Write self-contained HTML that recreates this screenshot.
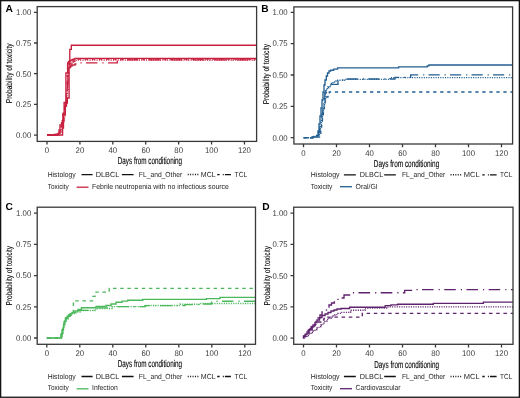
<!DOCTYPE html>
<html><head><meta charset="utf-8"><title>Figure</title>
<style>html,body{margin:0;padding:0;background:#fff;}svg{display:block;will-change:transform;}text{text-rendering:geometricPrecision;}</style>
</head><body>
<svg width="520" height="398" viewBox="0 0 520 398" font-family='"Liberation Sans", sans-serif'>
<rect width="520" height="398" fill="#fff"/>
<text x="5.40" y="12.30" font-size="10.2" fill="#000" font-weight="bold">A</text>
<clipPath id="clipA"><rect x="37.2" y="6.6" width="219.40000000000003" height="134.8"/></clipPath>
<g clip-path="url(#clipA)" fill="none" stroke="#c8203f" stroke-width="1.35">
<path d="M47 135H62.6V128H63.5V115H65.3V103H67.3V98H69.1V62H69.8V49.3H71.3V45.2H256.6"/>
<path d="M47 135H54.5V134.5H58V133.5H59V130H60V125H61.5V122.6H62.9V113.6H64.1V102.5H65.9V73H67.6V63H68.5V61.5H70V60.5H72V59.5H74V58.8H75V58.3H256.6"/>
<path d="M47 135H56V134.5H59.5V132H60.8V127H62V121H63.4V112H64.6V104H66.4V92H67.2V76H68V68H69V64H70.5V62.3H72V61H74V59.8H76V59.1H256.6" stroke-dasharray="3.4 3.7"/>
<path d="M47 135H56.5V134.7H60V133H61V129H62.3V124H63.5V118H64.8V108H66V100H67V90H67.8V76H68.3V69H69.3V66H70.5V64.5H72V63H73.5V62H75V61H76.2V60H256.6" stroke-dasharray="1.1 1.25"/>
<path d="M47 135H57V134.5H59.5V133H60.7V130H61.8V126H62.8V121H64V114H65V106H66.5V96H67.4V84H68V74H68.7V70H69.5V67.5H70.5V66H72V65H75V64H79V62.9H117.3V59.9H256.6" stroke-dasharray="11.4 5 1.2 4.4" stroke-dashoffset="20.90"/>
</g>
<rect x="37.2" y="6.6" width="219.40" height="134.80" fill="none" stroke="#3a3839" stroke-width="1.3"/>
<text x="31.30" y="137.90" font-size="8.2" fill="#404040" text-anchor="end" textLength="15.18" lengthAdjust="spacingAndGlyphs">0.00</text>
<text x="31.30" y="107.20" font-size="8.2" fill="#404040" text-anchor="end" textLength="15.18" lengthAdjust="spacingAndGlyphs">0.25</text>
<text x="31.30" y="76.50" font-size="8.2" fill="#404040" text-anchor="end" textLength="15.18" lengthAdjust="spacingAndGlyphs">0.50</text>
<text x="31.30" y="45.80" font-size="8.2" fill="#404040" text-anchor="end" textLength="15.18" lengthAdjust="spacingAndGlyphs">0.75</text>
<text x="31.30" y="15.10" font-size="8.2" fill="#404040" text-anchor="end" textLength="15.18" lengthAdjust="spacingAndGlyphs">1.00</text>
<text x="47.00" y="153.20" font-size="8.2" fill="#404040" text-anchor="middle" textLength="4.34" lengthAdjust="spacingAndGlyphs">0</text>
<text x="79.91" y="153.20" font-size="8.2" fill="#404040" text-anchor="middle" textLength="8.67" lengthAdjust="spacingAndGlyphs">20</text>
<text x="112.82" y="153.20" font-size="8.2" fill="#404040" text-anchor="middle" textLength="8.67" lengthAdjust="spacingAndGlyphs">40</text>
<text x="145.73" y="153.20" font-size="8.2" fill="#404040" text-anchor="middle" textLength="8.67" lengthAdjust="spacingAndGlyphs">60</text>
<text x="178.64" y="153.20" font-size="8.2" fill="#404040" text-anchor="middle" textLength="8.67" lengthAdjust="spacingAndGlyphs">80</text>
<text x="211.55" y="153.20" font-size="8.2" fill="#404040" text-anchor="middle" textLength="13.01" lengthAdjust="spacingAndGlyphs">100</text>
<text x="244.46" y="153.20" font-size="8.2" fill="#404040" text-anchor="middle" textLength="13.01" lengthAdjust="spacingAndGlyphs">120</text>
<path d="M34.00 135.10H37.20M34.00 104.40H37.20M34.00 73.70H37.20M34.00 43.00H37.20M34.00 12.30H37.20M47.00 141.40V144.60M79.91 141.40V144.60M112.82 141.40V144.60M145.73 141.40V144.60M178.64 141.40V144.60M211.55 141.40V144.60M244.46 141.40V144.60" stroke="#3a3839" stroke-width="1.3" fill="none"/>
<text transform="translate(117.70,163.60) scale(0.06332,0.1)" x="0" y="0" font-size="100" stroke="#000" stroke-width="1.2">Days from conditioning</text>
<text transform="translate(12.00,103.20) rotate(-90) scale(0.07629,0.1)" x="0" y="0" font-size="86" stroke="#000" stroke-width="1.0">Probability of toxicity</text>
<text x="47.70" y="177.20" font-size="7.4" fill="#262626" textLength="28.00" lengthAdjust="spacingAndGlyphs">Histology</text>
<text x="95.70" y="177.20" font-size="7.4" fill="#262626" textLength="23.60" lengthAdjust="spacingAndGlyphs">DLBCL</text>
<text x="138.80" y="177.20" font-size="7.4" fill="#262626" textLength="43.40" lengthAdjust="spacingAndGlyphs">FL_and_Other</text>
<text x="200.80" y="177.20" font-size="7.4" fill="#262626" textLength="14.90" lengthAdjust="spacingAndGlyphs">MCL</text>
<text x="234.60" y="177.20" font-size="7.4" fill="#262626" textLength="12.60" lengthAdjust="spacingAndGlyphs">TCL</text>
<text x="47.70" y="189.00" font-size="7.4" fill="#262626" textLength="21.10" lengthAdjust="spacingAndGlyphs">Toxicity</text>
<text x="92.00" y="189.00" font-size="7.4" fill="#262626" textLength="136.90" lengthAdjust="spacingAndGlyphs">Febrile neutropenia with no infectious source</text>
<path d="M81.5 174.6H92.6M121.9 174.6H133.6" stroke="#111" stroke-width="1.3"/>
<path d="M187.70 174.6h1.0M190.12 174.6h1.0M192.54 174.6h1.0M194.96 174.6h1.0M197.38 174.6h1.0" stroke="#111" stroke-width="1.5"/>
<path d="M217.20 174.6h2.4M222.80 174.6h1M224.90 174.6H230.90" stroke="#111" stroke-width="1.3"/>
<path d="M76.6 187.2H88.5" stroke="#c8203f" stroke-width="1.3"/>
<text x="261.30" y="12.30" font-size="10.2" fill="#000" font-weight="bold">B</text>
<clipPath id="clipB"><rect x="293.9" y="6.9" width="218.70000000000005" height="137.1"/></clipPath>
<g clip-path="url(#clipB)" fill="none" stroke="#235f91" stroke-width="1.35">
<path d="M310 137.7H313V137H316.5V135.5H318V131H319V124H320V116H321V108H322V100H323V92H324V85H325V80H326.3V76H327.5V73H329V71H330.6V70.2H333.6V69.1H337.6V67.9H398.6V66.9H427.2V65.9H429V65.0H512.6"/>
<path d="M303.5 137.7H310V137H317V135.5H318.8V132H319.8V127H320.8V121H321.8V114H322.8V106H323.8V99H324.8V93H325.8V89H326.8V87.3H328V86H329.5V84.3H338V80H346V79H395V77.3H410.7V74.8H512.6" stroke-dasharray="11.2 4.9 1.2 4.2" stroke-dashoffset="5.60"/>
<path d="M310 137.7H314V136.5H318V134.5H319.5V130H320.5V125H321.5V119H322.5V112H323.5V105H324.5V99H325.5V94H326.5V90H327.3V88H328.5V86.5H330V85H331.5V83.5H333V82H334.5V81H336V80.2H346V79.3H390V77.6H512.6" stroke-dasharray="1.1 1.25"/>
<path d="M303.5 137.7H312V137H319.5V135H320.8V131H321.6V125H322.4V119H323.3V113H324.2V107H325.2V101H326.5V97H328V94.5H329.3V92H512.6" stroke-dasharray="3.3 3.72" stroke-dashoffset="0.14"/>
</g>
<rect x="293.9" y="6.9" width="218.70" height="137.10" fill="none" stroke="#3a3839" stroke-width="1.3"/>
<text x="287.60" y="140.50" font-size="8.2" fill="#404040" text-anchor="end" textLength="15.18" lengthAdjust="spacingAndGlyphs">0.00</text>
<text x="287.60" y="109.15" font-size="8.2" fill="#404040" text-anchor="end" textLength="15.18" lengthAdjust="spacingAndGlyphs">0.25</text>
<text x="287.60" y="77.80" font-size="8.2" fill="#404040" text-anchor="end" textLength="15.18" lengthAdjust="spacingAndGlyphs">0.50</text>
<text x="287.60" y="46.45" font-size="8.2" fill="#404040" text-anchor="end" textLength="15.18" lengthAdjust="spacingAndGlyphs">0.75</text>
<text x="287.60" y="15.10" font-size="8.2" fill="#404040" text-anchor="end" textLength="15.18" lengthAdjust="spacingAndGlyphs">1.00</text>
<text x="303.50" y="155.70" font-size="8.2" fill="#404040" text-anchor="middle" textLength="4.34" lengthAdjust="spacingAndGlyphs">0</text>
<text x="336.50" y="155.70" font-size="8.2" fill="#404040" text-anchor="middle" textLength="8.67" lengthAdjust="spacingAndGlyphs">20</text>
<text x="369.50" y="155.70" font-size="8.2" fill="#404040" text-anchor="middle" textLength="8.67" lengthAdjust="spacingAndGlyphs">40</text>
<text x="402.50" y="155.70" font-size="8.2" fill="#404040" text-anchor="middle" textLength="8.67" lengthAdjust="spacingAndGlyphs">60</text>
<text x="435.50" y="155.70" font-size="8.2" fill="#404040" text-anchor="middle" textLength="8.67" lengthAdjust="spacingAndGlyphs">80</text>
<text x="468.50" y="155.70" font-size="8.2" fill="#404040" text-anchor="middle" textLength="13.01" lengthAdjust="spacingAndGlyphs">100</text>
<text x="501.50" y="155.70" font-size="8.2" fill="#404040" text-anchor="middle" textLength="13.01" lengthAdjust="spacingAndGlyphs">120</text>
<path d="M290.70 137.70H293.90M290.70 106.35H293.90M290.70 75.00H293.90M290.70 43.65H293.90M290.70 12.30H293.90M303.50 144.00V147.20M336.50 144.00V147.20M369.50 144.00V147.20M402.50 144.00V147.20M435.50 144.00V147.20M468.50 144.00V147.20M501.50 144.00V147.20" stroke="#3a3839" stroke-width="1.3" fill="none"/>
<text transform="translate(373.80,166.90) scale(0.06430,0.1)" x="0" y="0" font-size="100" stroke="#000" stroke-width="1.2">Days from conditioning</text>
<text transform="translate(269.20,104.30) rotate(-90) scale(0.07693,0.1)" x="0" y="0" font-size="86" stroke="#000" stroke-width="1.0">Probability of toxicity</text>
<text x="310.80" y="176.70" font-size="7.4" fill="#262626" textLength="28.80" lengthAdjust="spacingAndGlyphs">Histology</text>
<text x="359.80" y="176.70" font-size="7.4" fill="#262626" textLength="23.40" lengthAdjust="spacingAndGlyphs">DLBCL</text>
<text x="401.90" y="176.70" font-size="7.4" fill="#262626" textLength="43.40" lengthAdjust="spacingAndGlyphs">FL_and_Other</text>
<text x="463.80" y="176.70" font-size="7.4" fill="#262626" textLength="15.90" lengthAdjust="spacingAndGlyphs">MCL</text>
<text x="500.00" y="176.70" font-size="7.4" fill="#262626" textLength="12.30" lengthAdjust="spacingAndGlyphs">TCL</text>
<text x="310.80" y="188.70" font-size="7.4" fill="#262626" textLength="21.60" lengthAdjust="spacingAndGlyphs">Toxicity</text>
<text x="355.60" y="188.70" font-size="7.4" fill="#262626" textLength="22.10" lengthAdjust="spacingAndGlyphs">Oral/GI</text>
<path d="M343.9 174.8H355.8M384.2 174.8H395.8" stroke="#111" stroke-width="1.3"/>
<path d="M450.50 174.8h1.0M452.92 174.8h1.0M455.34 174.8h1.0M457.76 174.8h1.0M460.18 174.8h1.0" stroke="#111" stroke-width="1.5"/>
<path d="M482.30 174.8h2.4M487.90 174.8h1M490.00 174.8H496.60" stroke="#111" stroke-width="1.3"/>
<path d="M340.0 186.7H352.0" stroke="#235f91" stroke-width="1.3"/>
<text x="5.40" y="210.20" font-size="10.2" fill="#000" font-weight="bold">C</text>
<clipPath id="clipC"><rect x="37.2" y="207.2" width="218.3" height="137.10000000000002"/></clipPath>
<g clip-path="url(#clipC)" fill="none" stroke="#4cb85c" stroke-width="1.35">
<path d="M46.8 338H61.6V334H62.5V330H63.5V325H64.5V321H66V318H68V316H70V314H72V312.5H75V311H78V309.5H81.5V307.7H96V306.5H106V305.5H111V304H116V302.2H122V301.1H127.7V300.2H142.7V299.4H206.3V298.6H220V297.4H255.5"/>
<path d="M46.8 338H60V336H62V332H63V327H64V322H65.5V318H67.5V315H70V313.5H73.4V300.8H92.8V296.4H95V292.1H109.2V288.3H255.5" stroke-dasharray="3.5 3.68" stroke-dashoffset="6.14"/>
<path d="M46.8 338H62V333H63V328H64.5V323H66V319H68V316.5H70V315H72V313.5H76V312H80V310.5H96V308.5H112V306.6H145V305.5H180V304.2H200V303.5H255.5" stroke-dasharray="1.1 1.25"/>
<path d="M46.8 338H61V334H62V330H63V326H64V322H65.5V318.5H67V316.5H69V315H72V312.5H78V310.3H96V307.8H112V306.6H145V305.6H185V304.6H200V304H211.6V301.2H255.5" stroke-dasharray="11.4 5 1.2 4.4" stroke-dashoffset="8.00"/>
</g>
<rect x="37.2" y="207.2" width="218.30" height="137.10" fill="none" stroke="#3a3839" stroke-width="1.3"/>
<text x="31.30" y="340.80" font-size="8.2" fill="#404040" text-anchor="end" textLength="15.18" lengthAdjust="spacingAndGlyphs">0.00</text>
<text x="31.30" y="309.60" font-size="8.2" fill="#404040" text-anchor="end" textLength="15.18" lengthAdjust="spacingAndGlyphs">0.25</text>
<text x="31.30" y="278.40" font-size="8.2" fill="#404040" text-anchor="end" textLength="15.18" lengthAdjust="spacingAndGlyphs">0.50</text>
<text x="31.30" y="247.20" font-size="8.2" fill="#404040" text-anchor="end" textLength="15.18" lengthAdjust="spacingAndGlyphs">0.75</text>
<text x="31.30" y="216.00" font-size="8.2" fill="#404040" text-anchor="end" textLength="15.18" lengthAdjust="spacingAndGlyphs">1.00</text>
<text x="46.80" y="356.20" font-size="8.2" fill="#404040" text-anchor="middle" textLength="4.34" lengthAdjust="spacingAndGlyphs">0</text>
<text x="79.80" y="356.20" font-size="8.2" fill="#404040" text-anchor="middle" textLength="8.67" lengthAdjust="spacingAndGlyphs">20</text>
<text x="112.80" y="356.20" font-size="8.2" fill="#404040" text-anchor="middle" textLength="8.67" lengthAdjust="spacingAndGlyphs">40</text>
<text x="145.80" y="356.20" font-size="8.2" fill="#404040" text-anchor="middle" textLength="8.67" lengthAdjust="spacingAndGlyphs">60</text>
<text x="178.80" y="356.20" font-size="8.2" fill="#404040" text-anchor="middle" textLength="8.67" lengthAdjust="spacingAndGlyphs">80</text>
<text x="211.80" y="356.20" font-size="8.2" fill="#404040" text-anchor="middle" textLength="13.01" lengthAdjust="spacingAndGlyphs">100</text>
<text x="244.80" y="356.20" font-size="8.2" fill="#404040" text-anchor="middle" textLength="13.01" lengthAdjust="spacingAndGlyphs">120</text>
<path d="M34.00 338.00H37.20M34.00 306.80H37.20M34.00 275.60H37.20M34.00 244.40H37.20M34.00 213.20H37.20M46.80 344.30V347.50M79.80 344.30V347.50M112.80 344.30V347.50M145.80 344.30V347.50M178.80 344.30V347.50M211.80 344.30V347.50M244.80 344.30V347.50" stroke="#3a3839" stroke-width="1.3" fill="none"/>
<text transform="translate(117.70,367.40) scale(0.06332,0.1)" x="0" y="0" font-size="100" stroke="#000" stroke-width="1.2">Days from conditioning</text>
<text transform="translate(12.00,305.40) rotate(-90) scale(0.07578,0.1)" x="0" y="0" font-size="86" stroke="#000" stroke-width="1.0">Probability of toxicity</text>
<text x="47.70" y="378.70" font-size="7.4" fill="#262626" textLength="28.00" lengthAdjust="spacingAndGlyphs">Histology</text>
<text x="95.70" y="378.70" font-size="7.4" fill="#262626" textLength="23.60" lengthAdjust="spacingAndGlyphs">DLBCL</text>
<text x="138.80" y="378.70" font-size="7.4" fill="#262626" textLength="43.40" lengthAdjust="spacingAndGlyphs">FL_and_Other</text>
<text x="200.80" y="378.70" font-size="7.4" fill="#262626" textLength="14.90" lengthAdjust="spacingAndGlyphs">MCL</text>
<text x="234.60" y="378.70" font-size="7.4" fill="#262626" textLength="12.60" lengthAdjust="spacingAndGlyphs">TCL</text>
<text x="47.70" y="390.40" font-size="7.4" fill="#262626" textLength="21.10" lengthAdjust="spacingAndGlyphs">Toxicity</text>
<text x="92.00" y="390.40" font-size="7.4" fill="#262626" textLength="25.70" lengthAdjust="spacingAndGlyphs">Infection</text>
<path d="M81.5 376.5H92.6M121.9 376.5H133.6" stroke="#111" stroke-width="1.3"/>
<path d="M187.70 376.5h1.0M190.12 376.5h1.0M192.54 376.5h1.0M194.96 376.5h1.0M197.38 376.5h1.0" stroke="#111" stroke-width="1.5"/>
<path d="M217.20 376.5h2.4M222.80 376.5h1M224.90 376.5H230.90" stroke="#111" stroke-width="1.3"/>
<path d="M76.6 388.8H88.5" stroke="#4cb85c" stroke-width="1.3"/>
<text x="262.30" y="209.80" font-size="10.2" fill="#000" font-weight="bold">D</text>
<clipPath id="clipD"><rect x="293.7" y="207.2" width="219.3" height="137.10000000000002"/></clipPath>
<g clip-path="url(#clipD)" fill="none" stroke="#5f236e" stroke-width="1.35">
<path d="M303.5 338.2V336.5H305V334.5H307V332H309V329.5H311V327H313V325H315V322.5H317V320H319.5V317.5H322V315.5H325V314H328V312.5H331V311H334V310H337V309H341V308.5H349.6V307.2H385.2V305.6H391V304.8H397.7V304.2H433.3V303.3H483.4V302.1H513"/>
<path d="M303.5 338.2V336H305V334H306.5V332H308V330.5H310V329H312V326.5H314V324H316V321.5H318V318H320V315H322V312H324V310H326.5V307H329V305H331.5V303H334.4V301.7H338V298H344V295H350.8V292.7H404.7V290.4H413.8V289.6H513" stroke-dasharray="11.6 5 1.2 4.4" stroke-dashoffset="10.50"/>
<path d="M303.5 338.2H305V337H307V335.5H309V334H311V332.5H313V331H315V329.5H317V328H319V326.5H321V325H323V323H325V321H327V319.5H329V318.2H331V317H333V315.8H335V314.6H338V313.4H341V312.4H350.6V310.2H365V308H388V306.9H513" stroke-dasharray="1.1 1.25"/>
<path d="M303.5 338.2V336H306V333H309V330H312V327H315V324.5H318V322H321V320H324V318.5H326.7V317.1H362.3V313.3H513" stroke-dasharray="3.5 3.7" stroke-dashoffset="5.60"/>
</g>
<rect x="293.7" y="207.2" width="219.30" height="137.10" fill="none" stroke="#3a3839" stroke-width="1.3"/>
<text x="287.60" y="341.00" font-size="8.2" fill="#404040" text-anchor="end" textLength="15.18" lengthAdjust="spacingAndGlyphs">0.00</text>
<text x="287.60" y="309.75" font-size="8.2" fill="#404040" text-anchor="end" textLength="15.18" lengthAdjust="spacingAndGlyphs">0.25</text>
<text x="287.60" y="278.50" font-size="8.2" fill="#404040" text-anchor="end" textLength="15.18" lengthAdjust="spacingAndGlyphs">0.50</text>
<text x="287.60" y="247.25" font-size="8.2" fill="#404040" text-anchor="end" textLength="15.18" lengthAdjust="spacingAndGlyphs">0.75</text>
<text x="287.60" y="216.00" font-size="8.2" fill="#404040" text-anchor="end" textLength="15.18" lengthAdjust="spacingAndGlyphs">1.00</text>
<text x="303.50" y="356.20" font-size="8.2" fill="#404040" text-anchor="middle" textLength="4.34" lengthAdjust="spacingAndGlyphs">0</text>
<text x="336.50" y="356.20" font-size="8.2" fill="#404040" text-anchor="middle" textLength="8.67" lengthAdjust="spacingAndGlyphs">20</text>
<text x="369.50" y="356.20" font-size="8.2" fill="#404040" text-anchor="middle" textLength="8.67" lengthAdjust="spacingAndGlyphs">40</text>
<text x="402.50" y="356.20" font-size="8.2" fill="#404040" text-anchor="middle" textLength="8.67" lengthAdjust="spacingAndGlyphs">60</text>
<text x="435.50" y="356.20" font-size="8.2" fill="#404040" text-anchor="middle" textLength="8.67" lengthAdjust="spacingAndGlyphs">80</text>
<text x="468.50" y="356.20" font-size="8.2" fill="#404040" text-anchor="middle" textLength="13.01" lengthAdjust="spacingAndGlyphs">100</text>
<text x="501.50" y="356.20" font-size="8.2" fill="#404040" text-anchor="middle" textLength="13.01" lengthAdjust="spacingAndGlyphs">120</text>
<path d="M290.50 338.20H293.70M290.50 306.95H293.70M290.50 275.70H293.70M290.50 244.45H293.70M290.50 213.20H293.70M303.50 344.30V347.50M336.50 344.30V347.50M369.50 344.30V347.50M402.50 344.30V347.50M435.50 344.30V347.50M468.50 344.30V347.50M501.50 344.30V347.50" stroke="#3a3839" stroke-width="1.3" fill="none"/>
<text transform="translate(374.20,367.90) scale(0.06371,0.1)" x="0" y="0" font-size="100" stroke="#000" stroke-width="1.2">Days from conditioning</text>
<text transform="translate(270.20,305.40) rotate(-90) scale(0.07578,0.1)" x="0" y="0" font-size="86" stroke="#000" stroke-width="1.0">Probability of toxicity</text>
<text x="310.80" y="378.70" font-size="7.4" fill="#262626" textLength="28.80" lengthAdjust="spacingAndGlyphs">Histology</text>
<text x="359.80" y="378.70" font-size="7.4" fill="#262626" textLength="23.40" lengthAdjust="spacingAndGlyphs">DLBCL</text>
<text x="401.90" y="378.70" font-size="7.4" fill="#262626" textLength="43.40" lengthAdjust="spacingAndGlyphs">FL_and_Other</text>
<text x="463.80" y="378.70" font-size="7.4" fill="#262626" textLength="15.90" lengthAdjust="spacingAndGlyphs">MCL</text>
<text x="500.00" y="378.70" font-size="7.4" fill="#262626" textLength="12.30" lengthAdjust="spacingAndGlyphs">TCL</text>
<text x="310.80" y="390.40" font-size="7.4" fill="#262626" textLength="21.60" lengthAdjust="spacingAndGlyphs">Toxicity</text>
<text x="355.60" y="390.40" font-size="7.4" fill="#262626" textLength="44.80" lengthAdjust="spacingAndGlyphs">Cardiovascular</text>
<path d="M343.9 376.5H355.8M384.2 376.5H395.8" stroke="#111" stroke-width="1.3"/>
<path d="M450.50 376.5h1.0M452.92 376.5h1.0M455.34 376.5h1.0M457.76 376.5h1.0M460.18 376.5h1.0" stroke="#111" stroke-width="1.5"/>
<path d="M482.30 376.5h2.4M487.90 376.5h1M490.00 376.5H496.60" stroke="#111" stroke-width="1.3"/>
<path d="M340.0 388.7H352.0" stroke="#5f236e" stroke-width="1.3"/>
<rect x="0.65" y="0.65" width="518.7" height="396.6" fill="none" stroke="#141414" stroke-width="1.3"/>
</svg>
</body></html>
